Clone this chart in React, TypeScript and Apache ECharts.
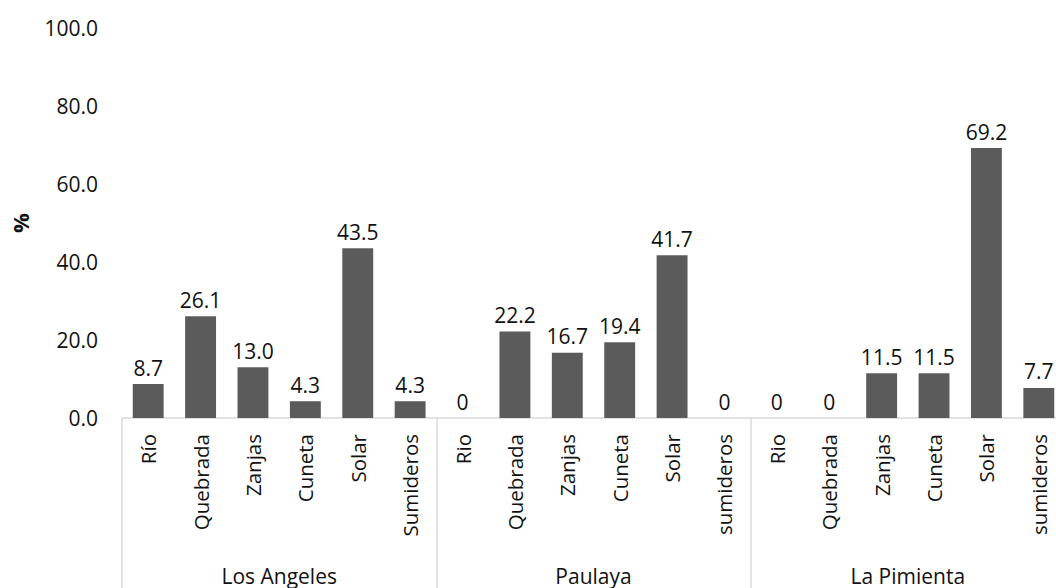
import React, { useEffect, useRef } from "react";
import * as echarts from "echarts";

const categories = [
  "Río", "Quebrada", "Zanjas", "Cuneta", "Solar", "Sumideros",
  "Rio", "Quebrada", "Zanjas", "Cuneta", "Solar", "sumideros",
  "Rio", "Quebrada", "Zanjas", "Cuneta", "Solar", "sumideros",
];
const groups = ["Los Angeles", "Paulaya", "La Pimienta"];
const values = [
  8.7, 26.1, 13.0, 4.3, 43.5, 4.3,
  0, 22.2, 16.7, 19.4, 41.7, 0,
  0, 0, 11.5, 11.5, 69.2, 7.7,
];
const yTicks = { min: 0, max: 100, interval: 20 };

const FONT = "'Open Sans', 'Noto Sans', sans-serif";
const TEXT = "#111111";
const LINE = "#d9d9d9";

export default function App() {
  const ref = useRef<HTMLDivElement>(null);
  useEffect(() => {
    document.body.style.margin = "0";
    if (!ref.current) return;
    const chart = echarts.init(ref.current, undefined, { renderer: "svg" });
    chart.setOption({
      animation: false,
      backgroundColor: "#ffffff",
      textStyle: { fontFamily: FONT, color: TEXT },
      grid: {
        left: 122,
        top: 28,
        width: 943,
        height: 390,
        containLabel: false,
        outerBoundsMode: "none",
      },
      xAxis: [
        {
          type: "category",
          data: categories,
          position: "bottom",
          axisLine: { show: true, lineStyle: { color: LINE, width: 1.5 } },
          axisTick: { show: false },
          axisLabel: {
            interval: 0,
            rotate: 90,
            margin: 16,
            fontSize: 20.5,
            fontFamily: FONT,
            color: TEXT,
          },
        },
        {
          type: "category",
          data: groups,
          position: "bottom",
          axisLine: { show: false },
          axisTick: { show: true, length: 172, interval: 0, lineStyle: { color: LINE, width: 1.5 } },
          axisLabel: {
            interval: 0,
            margin: 147,
            fontSize: 21,
            fontFamily: FONT,
            color: TEXT,
          },
        },
      ],
      yAxis: {
        type: "value",
        min: yTicks.min,
        max: yTicks.max,
        interval: yTicks.interval,
        name: "%",
        nameLocation: "middle",
        nameGap: 91,
        nameRotate: 90,
        nameTextStyle: { fontSize: 22, fontWeight: "bold", fontFamily: FONT, color: TEXT },
        axisLine: { show: false },
        axisTick: { show: false },
        splitLine: { show: false },
        axisLabel: {
          margin: 24,
          fontSize: 21,
          fontFamily: FONT,
          color: TEXT,
          formatter: (v: number) => v.toFixed(1),
        },
      },
      series: [
        {
          type: "bar",
          data: values,
          xAxisIndex: 0,
          barCategoryGap: "41%",
          itemStyle: { color: "#5b5b5b" },
          label: {
            show: true,
            position: "top",
            distance: 6,
            fontSize: 21,
            fontFamily: FONT,
            color: TEXT,
            formatter: (p: any) => (p.value === 0 ? "0" : Number(p.value).toFixed(1)),
          },
        },
      ],
    });
    return () => chart.dispose();
  }, []);
  return <div ref={ref} style={{ width: 1056, height: 588 }} />;
}
